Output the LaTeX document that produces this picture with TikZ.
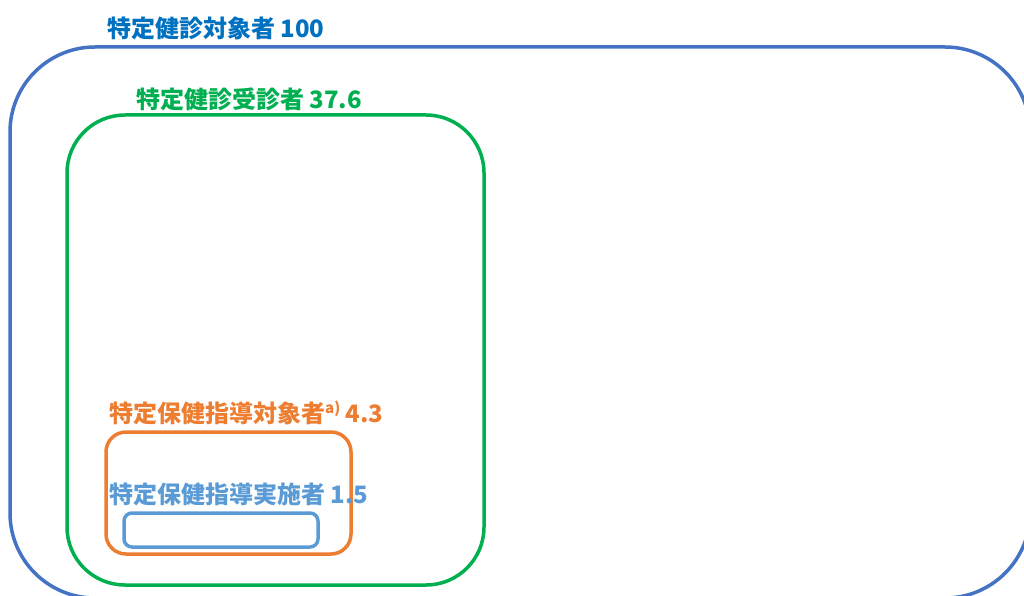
\documentclass[tikz,border=0pt]{standalone}
\usepackage{fontspec}
\newfontfamily\jp{Noto Sans CJK JP}
\definecolor{outerblue}{HTML}{4472C4}
\definecolor{titleblue}{HTML}{0070C0}
\definecolor{kgreen}{HTML}{00B050}
\definecolor{korange}{HTML}{ED7D31}
\definecolor{lblue}{HTML}{5B9BD5}
\tikzset{
  lbl/.style={anchor=west, inner sep=0pt, font=\jp\bfseries\fontsize{24}{27}\selectfont},
  frame/.style={line width=3.5pt}
}
\begin{document}
\begin{tikzpicture}[x=1pt,y=-1pt]
\useasboundingbox (0,0) rectangle (1024,596);
\begin{scope}
\clip (0,0) rectangle (1024,596);
\draw[frame, outerblue, rounded corners=85pt] (10,47) rectangle (1030,598);
\end{scope}
\draw[frame, kgreen, rounded corners=58pt] (67,115) rectangle (484,585);
\draw[frame, korange, rounded corners=20pt] (106,432) rectangle (351,554);
\draw[frame, lblue, rounded corners=8pt] (124,513) rectangle (318,547);
\node[lbl, text=titleblue] (t1) at (107,28) {特定健診対象者 100};
\node[lbl, text=kgreen] (t2) at (136,99) {特定健診受診者 37.6};
\node[lbl, text=korange] (t3) at (109,413) {特定保健指導対象者\raisebox{0.4em}{\fontsize{15}{16}\selectfont a)} 4.3};
\node[lbl, text=lblue] (t4) at (109,494) {特定保健指導実施者 1.5};
\end{tikzpicture}
\end{document}
